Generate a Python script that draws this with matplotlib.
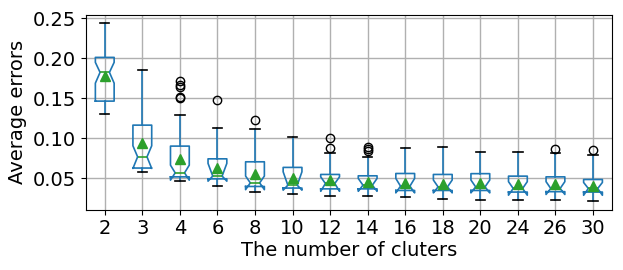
import matplotlib
matplotlib.use("Agg")
import matplotlib.pyplot as plt

labels = ["2", "3", "4", "6", "8", "10", "12", "14", "16", "18", "20", "24", "26", "30"]
whislo = [0.130, 0.0575, 0.0465, 0.0404, 0.0325, 0.030, 0.028, 0.028, 0.0266, 0.0246, 0.0237, 0.0225, 0.0237, 0.0220]
q1     = [0.1466, 0.0630, 0.0520, 0.0495, 0.0400, 0.0380, 0.0370, 0.0370, 0.0350, 0.0350, 0.0350, 0.0330, 0.0335, 0.0330]
cilo   = [0.169, 0.0625, 0.0479, 0.0466, 0.0360, 0.0354, 0.0340, 0.0340, 0.0320, 0.0320, 0.0320, 0.0291, 0.0300, 0.0290]
med    = [0.1825, 0.0770, 0.0570, 0.0530, 0.0445, 0.0416, 0.0437, 0.0416, 0.0404, 0.0395, 0.0395, 0.0375, 0.0375, 0.0375]
cihi   = [0.195, 0.0908, 0.0666, 0.0688, 0.0530, 0.0583, 0.0520, 0.0500, 0.0500, 0.0480, 0.0480, 0.0460, 0.0460, 0.0450]
q3     = [0.2012, 0.1166, 0.0904, 0.0745, 0.0708, 0.0638, 0.0550, 0.0533, 0.0562, 0.0550, 0.0560, 0.0529, 0.0520, 0.0487]
whishi = [0.2437, 0.1854, 0.1287, 0.1133, 0.1121, 0.1012, 0.0820, 0.0770, 0.0883, 0.0891, 0.0829, 0.0825, 0.0812, 0.0787]
means  = [0.178, 0.094, 0.0745, 0.0625, 0.055, 0.050, 0.048, 0.046, 0.0445, 0.0433, 0.0437, 0.0425, 0.0425, 0.041]
fliers = [[], [], [0.1716, 0.1666, 0.1637, 0.152, 0.150], [0.1475], [0.1229], [],
          [0.100, 0.0879], [0.0895, 0.0862, 0.0845], [], [], [], [], [0.0862], [0.0854]]

stats = []
for i, lab in enumerate(labels):
    stats.append(dict(label=lab, whislo=whislo[i], q1=q1[i], cilo=cilo[i], med=med[i],
                      cihi=cihi[i], q3=q3[i], whishi=whishi[i], mean=means[i], fliers=fliers[i]))

fig = plt.figure(figsize=(6.23, 2.70), dpi=100)
ax = fig.add_axes([0.138, 0.224, 0.844, 0.72])
ax.set_axisbelow(True)
ax.grid(True, color="#b0b0b0", linewidth=1.0)
ax.bxp(stats, shownotches=True, showmeans=True, widths=0.5,
       boxprops=dict(color="#1f77b4", linewidth=1.2),
       whiskerprops=dict(color="#1f77b4", linewidth=1.2),
       capprops=dict(color="black", linewidth=1.2),
       medianprops=dict(color="#2ca02c", linewidth=1.2),
       meanprops=dict(marker="^", markerfacecolor="#2ca02c", markeredgecolor="#2ca02c", markersize=7),
       flierprops=dict(marker="o", markerfacecolor="none", markeredgecolor="black", markersize=6))
ax.set_ylim(0.0112, 0.254)
ax.set_xlim(0.5, 14.5)
ax.set_yticks([0.05, 0.10, 0.15, 0.20, 0.25])
ax.tick_params(labelsize=14)
ax.set_xlabel("The number of cluters", fontsize=14, labelpad=2)
ax.set_ylabel("Average errors", fontsize=14)
fig.savefig("out.png", dpi=100)
